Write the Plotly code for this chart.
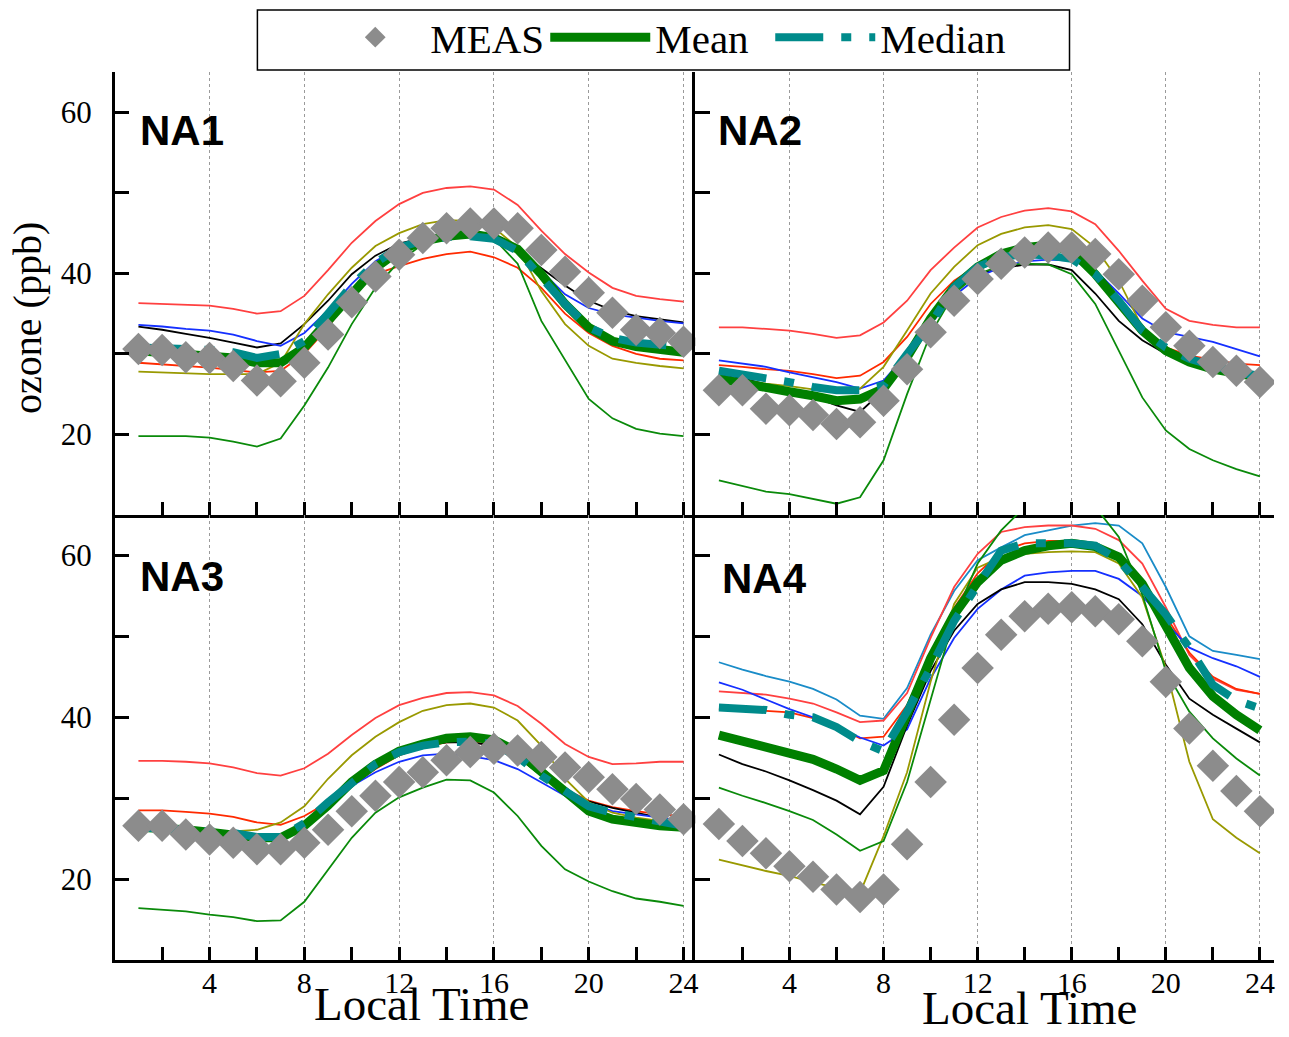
import plotly.graph_objects as go

hours = list(range(1, 25))

# ---------------- NA1 ----------------
meas_1 = [30.6,30.5,29.6,29.5,28.5,26.7,26.6,28.9,32.4,36.4,39.6,42.3,44.4,45.6,46.2,46.2,45.6,42.9,40.2,37.6,35.1,33.0,32.6,31.5]
red_hi_1 = [36.3,36.2,36.1,36.0,35.6,35.0,35.3,37.2,40.4,43.8,46.5,48.6,50.0,50.6,50.8,50.4,48.5,45.3,42.4,40.1,38.2,37.2,36.8,36.5]
red_lo_1 = [28.9,28.7,28.5,28.3,28.0,27.7,27.9,30.0,33.3,37.4,39.9,40.9,41.8,42.4,42.7,42.0,40.7,38.2,35.0,32.6,31.0,30.0,29.4,29.2]
black_1 = [33.4,33.0,32.5,32.0,31.4,30.8,31.3,33.7,36.6,39.9,42.2,43.7,44.4,44.8,44.8,44.3,42.8,40.7,38.5,36.6,35.4,34.7,34.3,33.9]
blue_1 = [33.6,33.4,33.1,32.9,32.4,31.6,31.0,32.6,35.4,38.7,41.5,43.2,44.0,44.4,44.5,44.1,42.8,40.3,37.4,35.7,34.9,34.5,34.1,33.8]
olive_1 = [27.8,27.7,27.6,27.5,27.5,27.5,28.9,33.7,37.4,40.7,43.4,45.0,46.1,46.6,46.5,45.7,43.2,37.8,33.7,31.0,29.4,28.9,28.5,28.2]
green_1 = [19.8,19.8,19.8,19.6,19.1,18.5,19.5,23.6,28.3,33.7,38.2,41.5,43.6,44.6,45.0,44.3,41.2,34.1,29.2,24.4,22.0,20.7,20.1,19.8]
mean_1 = [30.4,30.2,30.0,29.8,29.5,28.9,28.9,30.8,34.1,37.8,40.7,42.8,44.0,44.6,44.9,44.4,43.0,39.9,36.2,33.3,31.6,30.9,30.5,30.2]
median_1 = [30.8,30.7,30.7,30.5,30.2,29.5,30.0,31.6,35.0,38.5,41.3,43.2,44.1,44.5,44.6,44.3,42.8,39.4,36.2,33.3,32.0,31.4,31.2,30.9]

# ---------------- NA2 ----------------
meas_2 = [25.5,25.5,23.2,23.0,22.4,21.3,21.5,24.2,28.1,32.7,36.6,39.3,41.2,42.6,43.2,43.2,42.4,39.9,36.6,33.3,31.0,29.0,27.9,26.5]
red_hi_2 = [33.3,33.3,33.1,32.9,32.5,32.0,32.3,33.9,36.6,40.4,43.2,45.7,47.0,47.8,48.1,47.7,46.1,42.8,39.1,35.6,34.1,33.6,33.3,33.3]
red_lo_2 = [28.6,28.4,28.1,27.9,27.5,27.0,27.3,29.0,32.1,36.2,39.1,41.0,42.0,42.4,42.6,42.0,39.9,36.6,33.3,30.8,29.8,29.3,28.8,28.6]
black_2 = [27.5,27.0,26.2,25.5,24.7,23.6,22.8,25.5,29.6,34.1,37.9,39.9,40.6,41.1,41.1,40.4,37.5,34.1,31.7,30.0,29.2,28.4,27.5,26.5]
blue_2 = [29.2,28.8,28.4,27.7,27.1,26.5,25.7,26.7,30.0,33.7,37.2,39.5,40.8,41.5,41.7,41.6,40.4,37.5,34.4,32.7,32.1,31.5,30.6,29.7]
olive_2 = [27.0,26.7,26.3,26.0,25.6,25.3,25.7,28.4,32.9,37.5,40.8,43.5,44.9,45.7,46.0,45.5,43.2,39.1,33.3,30.4,29.2,28.4,27.7,27.3]
green_2 = [14.3,13.6,12.9,12.6,12.0,11.4,12.2,16.8,25.0,32.5,37.5,39.9,41.0,41.2,41.1,39.9,36.2,30.4,24.6,20.5,18.2,16.8,15.7,14.8]
mean_2 = [26.9,26.3,25.7,25.3,24.8,24.2,24.4,25.7,29.6,34.4,38.3,40.8,42.4,43.2,43.5,42.8,39.9,36.2,32.9,30.4,29.0,28.1,27.5,27.1]
median_2 = [27.9,27.5,27.1,26.5,25.9,25.5,25.5,26.1,30.0,33.7,38.3,40.8,42.0,42.4,42.2,41.8,39.9,36.6,32.9,30.8,29.4,28.6,27.7,27.3]

# ---------------- NA3 ----------------
meas_3 = [26.6,26.6,25.5,24.9,24.5,23.7,23.7,24.5,26.1,28.4,30.3,32.0,33.2,34.7,35.7,36.1,35.9,35.1,33.8,32.6,31.1,29.9,28.6,27.4]
red_hi_3 = [34.6,34.6,34.5,34.3,33.8,33.1,32.8,33.7,35.5,37.8,39.9,41.5,42.4,43.0,43.1,42.7,41.4,39.2,36.7,35.1,34.2,34.3,34.5,34.5]
red_lo_3 = [28.5,28.5,28.3,28.1,27.7,27.0,26.7,27.8,29.5,31.6,33.6,35.3,36.3,36.9,37.0,36.5,35.3,33.2,31.1,29.7,28.9,28.4,28.0,27.8]
black_3 = [26.2,26.1,25.9,25.7,25.5,25.3,25.3,26.7,29.5,32.4,34.5,35.7,36.5,36.9,36.9,36.5,35.1,32.8,30.7,29.6,28.8,28.2,27.6,27.2]
blue_3 = [26.1,25.9,25.7,25.5,25.3,25.0,25.1,26.6,29.1,31.5,33.2,34.5,35.3,35.5,35.2,34.7,33.6,32.0,30.3,29.3,28.4,28.0,27.6,27.2]
olive_3 = [26.0,25.9,25.8,25.7,25.9,26.1,27.0,29.0,32.4,35.3,37.6,39.4,40.8,41.5,41.7,41.2,39.6,36.5,32.4,29.5,28.2,27.6,27.2,26.8]
green_3 = [16.4,16.2,16.0,15.6,15.3,14.8,14.9,17.2,21.2,25.1,28.2,30.1,31.3,32.3,32.2,30.7,27.8,24.1,21.2,19.7,18.5,17.6,17.2,16.7]
mean_3 = [26.4,26.3,26.1,25.8,25.5,25.1,25.1,26.6,29.1,32.0,34.2,35.8,36.7,37.4,37.6,37.2,35.7,33.2,30.7,28.4,27.4,26.9,26.6,26.4]
median_3 = [26.4,26.3,26.1,25.9,25.7,25.2,25.2,26.9,29.5,31.8,34.2,35.7,36.5,36.9,37.0,36.7,35.1,32.8,30.9,29.0,28.2,27.6,27.2,26.6]

# ---------------- NA4 ----------------
meas_4 = [26.8,24.7,23.2,21.6,20.3,18.7,17.8,18.7,24.3,32.0,39.7,46.1,50.2,52.5,53.4,53.6,53.1,52.1,49.4,44.4,38.6,34.0,30.9,28.4]
ltblue_4 = [46.8,45.9,45.1,44.4,43.5,42.2,40.2,39.8,43.6,50.2,55.6,59.4,61.0,62.5,63.1,63.7,64.0,63.7,61.5,56.1,50.0,48.2,47.7,47.2]
red_hi_4 = [43.2,43.0,42.8,42.3,41.7,40.6,39.4,39.6,43.0,49.8,56.1,60.2,62.9,63.5,63.7,63.7,63.3,61.9,59.0,53.6,47.7,44.8,43.4,42.9]
red_lo_4 = [41.0,40.9,40.8,40.6,39.9,38.8,37.4,37.6,41.5,47.8,53.5,57.8,60.5,61.5,61.8,61.8,61.4,59.8,57.0,52.5,48.0,45.0,43.5,42.9]
blue_4 = [44.3,43.4,42.2,41.0,40.0,38.9,37.5,36.5,38.5,44.8,49.8,53.4,55.8,57.5,57.9,58.1,58.1,57.1,55.0,51.7,48.6,47.3,46.3,45.0]
black_4 = [35.4,34.2,33.3,32.2,31.0,29.7,28.0,31.4,39.0,45.7,50.7,54.0,55.8,56.7,56.7,56.5,55.8,54.6,51.5,46.5,42.3,40.3,38.6,36.9]
olive_4 = [22.4,21.7,21.0,20.4,19.6,18.9,18.3,25.3,33.2,44.4,54.0,58.5,59.8,60.2,60.4,60.5,60.4,59.0,54.8,46.1,34.5,27.4,25.1,23.2]
green_4 = [31.3,30.3,29.4,28.4,27.3,25.5,23.5,24.7,32.0,42.3,52.3,59.0,63.1,66.0,67.0,67.0,66.0,62.3,55.2,45.7,40.7,37.4,34.9,32.8]
mean_4 = [37.8,37.1,36.3,35.5,34.8,33.6,32.2,33.4,40.3,47.3,52.7,56.7,59.4,60.6,61.2,61.5,61.1,59.8,56.5,51.1,46.1,42.6,40.3,38.4]
median_4 = [41.2,41.1,40.9,40.3,40.0,38.8,37.0,35.8,40.7,46.1,51.9,56.3,60.6,61.5,61.5,61.5,61.2,59.4,56.1,52.7,48.6,44.0,42.1,41.1]

panel_labels = ["NA1", "NA2", "NA3", "NA4"]
x_tick_vals = [4, 8, 12, 16, 20, 24]

panels = [
    dict(meas=meas_1, mean=mean_1, median=median_1,
         thin=[("#ff4040", red_hi_1), ("#ff2a00", red_lo_1), ("#000000", black_1),
               ("#1530ff", blue_1), ("#999900", olive_1), ("#0a8a0a", green_1)]),
    dict(meas=meas_2, mean=mean_2, median=median_2,
         thin=[("#ff4040", red_hi_2), ("#ff2a00", red_lo_2), ("#000000", black_2),
               ("#1530ff", blue_2), ("#999900", olive_2), ("#0a8a0a", green_2)]),
    dict(meas=meas_3, mean=mean_3, median=median_3,
         thin=[("#ff4040", red_hi_3), ("#ff2a00", red_lo_3), ("#000000", black_3),
               ("#1530ff", blue_3), ("#999900", olive_3), ("#0a8a0a", green_3)]),
    dict(meas=meas_4, mean=mean_4, median=median_4,
         thin=[("#1a8cc8", ltblue_4), ("#ff4040", red_hi_4), ("#ff2a00", red_lo_4),
               ("#1530ff", blue_4), ("#000000", black_4), ("#999900", olive_4),
               ("#0a8a0a", green_4)]),
]

W, H = 1289, 1037
def px(x):
    return x / W
def py(y):
    return 1 - y / H

xl0, xmid, xr1 = px(115), px(697), px(1277)
ybot0, ymid, ytop1 = py(960), py(515), py(72)
x_domains = [[xl0, xmid], [xmid, xr1], [xl0, xmid], [xmid, xr1]]
y_domains = [[ymid, ytop1], [ymid, ytop1], [ybot0, ymid], [ybot0, ymid]]
x_ranges = [[0, 24.5], [0, 24.6], [0, 24.5], [0, 24.6]]

SERIF = "Liberation Serif, Times New Roman, serif"
fig = go.Figure()

for i, p in enumerate(panels):
    xa = "x" if i == 0 else f"x{i+1}"
    ya = "y" if i == 0 else f"y{i+1}"
    for col, vals in p["thin"]:
        fig.add_trace(go.Scatter(x=hours, y=vals, mode="lines", xaxis=xa, yaxis=ya,
                                 line=dict(color=col, width=1.8), showlegend=False,
                                 hoverinfo="skip"))
    fig.add_trace(go.Scatter(x=hours, y=p["mean"], mode="lines", xaxis=xa, yaxis=ya,
                             name="Mean", line=dict(color="#008000", width=9),
                             showlegend=(i == 0), legendrank=2))
    fig.add_trace(go.Scatter(x=hours, y=p["median"], mode="lines", xaxis=xa, yaxis=ya,
                             name="Median",
                             line=dict(color="#008b8b", width=8, dash="48px,18px,10px,18px"),
                             showlegend=(i == 0), legendrank=3))
    fig.add_trace(go.Scatter(x=hours, y=p["meas"], mode="markers", xaxis=xa, yaxis=ya,
                             name="MEAS",
                             marker=dict(symbol="diamond", size=25, color="#8c8c8c"),
                             showlegend=(i == 0), legendrank=1))

# empty trailing legend entry: only reserves room so the last label is not clipped
fig.add_trace(go.Scatter(x=[None], y=[None], mode="lines", name="\u00a0",
                         line=dict(width=0, color="rgba(0,0,0,0)"),
                         showlegend=True, legendrank=4, hoverinfo="skip"))

layout = dict(
    width=W, height=H,
    margin=dict(l=0, r=0, t=0, b=0),
    paper_bgcolor="white", plot_bgcolor="white",
    font=dict(family=SERIF, size=30, color="black"),
    legend=dict(orientation="h", x=px(321), xanchor="left", y=py(4), yanchor="top",
                borderwidth=0, bgcolor="rgba(0,0,0,0)",
                font=dict(family=SERIF, size=41, color="black"),
                itemwidth=100, entrywidth=110, entrywidthmode="pixels",
                traceorder="normal", itemclick=False, itemdoubleclick=False),
    shapes=[dict(type="rect", xref="paper", yref="paper",
                 x0=px(258), x1=px(1072), y0=py(70), y1=py(10),
                 line=dict(color="black", width=1.5), fillcolor="rgba(0,0,0,0)",
                 layer="above")],
)

for i in range(4):
    xk = "xaxis" if i == 0 else f"xaxis{i+1}"
    yk = "yaxis" if i == 0 else f"yaxis{i+1}"
    ya = "y" if i == 0 else f"y{i+1}"
    xa = "x" if i == 0 else f"x{i+1}"
    bottom = i >= 2
    left = i % 2 == 0
    layout[xk] = dict(
        domain=x_domains[i], anchor=ya, range=x_ranges[i],
        showline=True, linecolor="black", linewidth=2.5,
        ticks="inside", ticklen=13, tickwidth=2.5, tickcolor="black",
        tickmode="array", tickvals=x_tick_vals, ticktext=[str(v) for v in x_tick_vals],
        showticklabels=bottom, tickfont=dict(family=SERIF, size=30, color="black"),
        ticklabelstandoff=-6,
        showgrid=True, gridcolor="#9a9a9a", gridwidth=1.2, griddash="dot",
        minor=dict(dtick=2, tick0=0, ticks="inside", ticklen=13, tickwidth=2.5,
                   tickcolor="black", showgrid=False),
        zeroline=False, fixedrange=True,
    )
    layout[yk] = dict(
        domain=y_domains[i], anchor=xa, range=[10, 65],
        showline=True, linecolor="black", linewidth=2.5,
        ticks="inside", ticklen=15, tickwidth=2.5, tickcolor="black",
        tick0=0, dtick=20,
        showticklabels=left, tickfont=dict(family=SERIF, size=31, color="black"),
        ticklabelstandoff=14,
        showgrid=False,
        minor=dict(dtick=10, tick0=0, ticks="inside", ticklen=15, tickwidth=2.5,
                   tickcolor="black", showgrid=False),
        zeroline=False, fixedrange=True,
    )

fig.update_layout(**layout)

annotations = []
label_pos = [(138, 131), (718, 131), (138, 576), (722, 578)]
for lab, (lx, ly) in zip(panel_labels, label_pos):
    annotations.append(dict(text=f"<b>{lab}</b>", x=px(lx), y=py(ly), xref="paper", yref="paper",
                            xanchor="left", yanchor="middle", showarrow=False,
                            font=dict(family="Liberation Sans, Arial, sans-serif", size=42,
                                      color="black")))

annotations.append(dict(text="ozone (ppb)", x=px(28), y=py(318), xref="paper", yref="paper",
                        xanchor="center", yanchor="middle", textangle=-90, showarrow=False,
                        font=dict(family=SERIF, size=40, color="black")))
annotations.append(dict(text="Local Time", x=px(422), y=py(1004), xref="paper", yref="paper",
                        xanchor="center", yanchor="middle", showarrow=False,
                        font=dict(family=SERIF, size=47, color="black")))
annotations.append(dict(text="Local Time", x=px(1032), y=py(1008), xref="paper", yref="paper",
                        xanchor="center", yanchor="middle", showarrow=False,
                        font=dict(family=SERIF, size=47, color="black")))
fig.update_layout(annotations=annotations)

fig.write_html("out.html")
